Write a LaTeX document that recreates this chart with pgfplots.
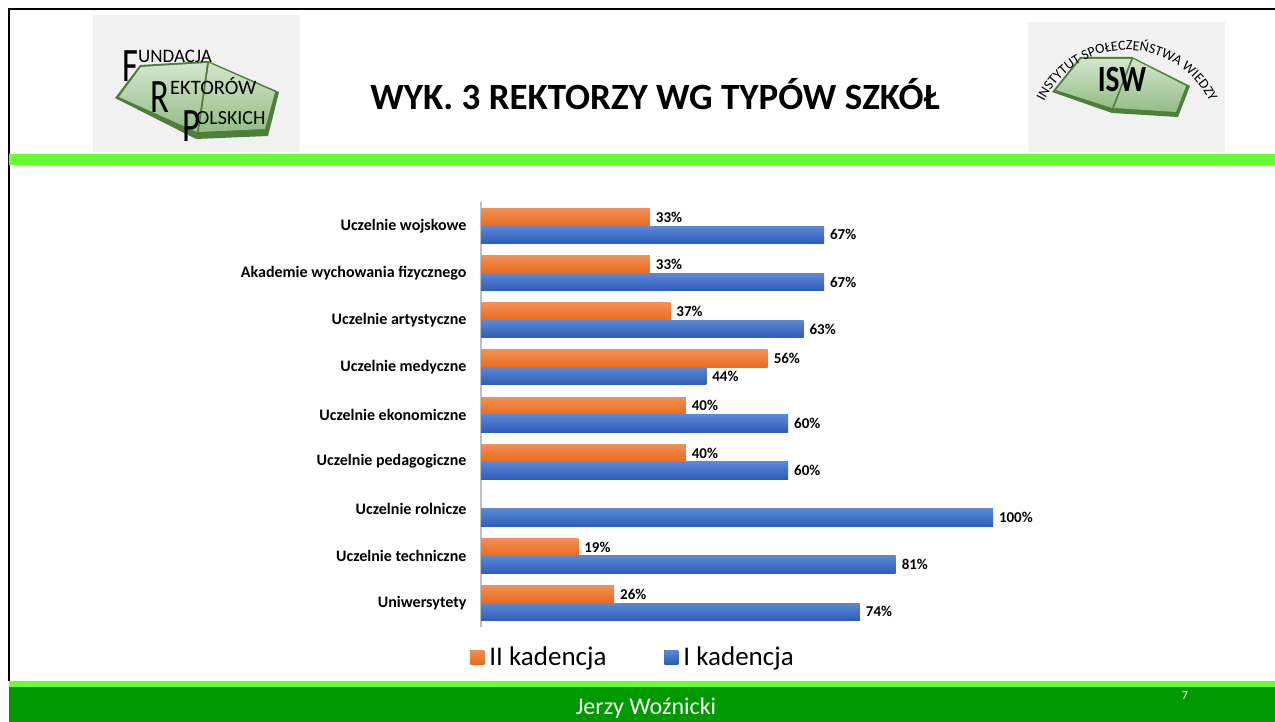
\documentclass[border=0pt]{standalone}
\usepackage{fontspec}
\setmainfont{Carlito}
\usepackage{pgfplots}
\pgfplotsset{compat=1.18}
\usetikzlibrary{decorations.text}
\definecolor{lgreen}{HTML}{66FF33}
\definecolor{dgreen}{HTML}{009900}
\definecolor{orT}{HTML}{F38E55}
\definecolor{orB}{HTML}{E86C1C}
\definecolor{blT}{HTML}{5B88D6}
\definecolor{blB}{HTML}{2E5DB8}
\definecolor{logobg}{HTML}{F1F1F1}
\definecolor{bookD}{HTML}{4F7D3C}
\definecolor{bookL}{HTML}{D3E6CC}
\definecolor{bookM}{HTML}{93BC86}
\tikzset{
  orbar/.style={draw=none, top color=orT, bottom color=orB, bar shift=8.75pt},
  blbar/.style={draw=none, top color=blT, bottom color=blB, bar shift=-8.75pt},
}
\begin{document}
\begin{tikzpicture}[x=1pt,y=1pt]
\useasboundingbox (0,0) rectangle (1275,722);
\fill[white] (0,0) rectangle (1275,722);
% slide frame
\draw[black, line width=2pt] (9,41) -- (9,713) -- (1275,713);
\fill[lgreen] (9,557) rectangle (1275,568);
\fill[lgreen] (9,35) rectangle (1275,41);
\fill[dgreen] (9,0) rectangle (1275,35);
\node[text=white, font=\fontsize{24}{27}\selectfont] at (646,14) {Jerzy Woźnicki};
\node[text=white, font=\fontsize{12}{14}\selectfont] at (1185,26) {7};
% title
\node[font=\fontsize{37}{42}\selectfont\bfseries] at (655,628) {WYK. 3 REKTORZY WG TYPÓW SZKÓŁ};
% left logo
\fill[logobg] (93,570) rectangle (300,707);
\fill[bookD] (115,624) -- (196,583) -- (268,586) -- (279,630) -- (208,661) -- (140,657) -- cycle;
\shade[top color=bookL, bottom color=bookM] (119,625) -- (141,655) -- (207,659) -- (197,590) -- cycle;
\shade[top color=bookL, bottom color=bookM] (209,659) -- (275,630) -- (265,593) -- (199,590) -- cycle;
\node[anchor=base west, inner sep=0pt, font=\fontsize{48}{48}\selectfont, xscale=0.72] at (122,640) {F};
\node[anchor=base west, inner sep=0pt, font=\fontsize{19}{19}\selectfont] at (138,659) {UNDACJA};
\node[anchor=base west, inner sep=0pt, font=\fontsize{48}{48}\selectfont, xscale=0.72] at (150,609) {R};
\node[anchor=base west, inner sep=0pt, font=\fontsize{20.5}{20}\selectfont] at (170,627) {EKTORÓW};
\node[anchor=base west, inner sep=0pt, font=\fontsize{48}{48}\selectfont, xscale=0.72] at (182,580) {P};
\node[anchor=base west, inner sep=0pt, font=\fontsize{20}{20}\selectfont] at (196,597) {OLSKICH};
% right logo
\fill[logobg] (1028,570) rectangle (1225,700);
\fill[bookD] (1052,630) -- (1112,609) -- (1178,605) -- (1190,636) -- (1132,665) -- (1080,665) -- cycle;
\shade[top color=bookL, bottom color=bookM] (1056,632) -- (1081,663) -- (1131,663) -- (1112,614) -- cycle;
\shade[top color=bookL, bottom color=bookM] (1133,663) -- (1186,636) -- (1176,610) -- (1114,614) -- cycle;
\node[font=\fontsize{37}{37}\selectfont\bfseries, xscale=0.8] at (1122,642) {ISW};
\path[decorate, decoration={text along path, text align=center,
  text={|\fontsize{14}{14}\selectfont|INSTYTUT SPOŁECZEŃSTWA WIEDZY}}]
  (1127,580) ++(162:92) arc[start angle=162, end angle=18, radius=92];
% chart
\begin{axis}[
  at={(481pt,95.4pt)}, anchor=south west,
  x=5.12pt, y=47.125pt,
  xmin=0, xmax=100, ymin=-0.5, ymax=8.5,
  axis x line=none,
  axis y line=left,
  y axis line style={-, draw=black!25, line width=1.5pt},
  major tick length=0pt,
  ytick={0,...,8},
  yticklabels={Uniwersytety, Uczelnie techniczne, Uczelnie rolnicze, Uczelnie pedagogiczne, Uczelnie ekonomiczne, Uczelnie medyczne, Uczelnie artystyczne, Akademie wychowania fizycznego, {Uczelnie wojskowe\ }},
  yticklabel style={font=\fontsize{16}{18}\selectfont\bfseries, anchor=east, xshift=-11pt},
  xbar, bar width=17.5pt,
  /pgf/number format/assume math mode=true,
  nodes near coords={\pgfmathprintnumber{\pgfplotspointmeta}\%},
  point meta=x,
  every node near coord/.append style={text=black, font=\fontsize{15}{17}\selectfont\bfseries, anchor=west, xshift=2.5pt},
  clip=false,
  legend columns=2,
  legend style={at={(axis description cs:0.297,-0.072)}, anchor=center, draw=none, fill=none,
     font=\fontsize{27}{30}\selectfont,
     /tikz/every odd column/.append style={column sep=3pt},
     /tikz/every even column/.append style={column sep=56pt}},
  legend image code/.code={\fill[#1] (0pt,-7pt) rectangle (14pt,7pt);},
]
% II kadencja (orange)
\addplot[orbar] coordinates {(26,0)};
\addlegendentry{II kadencja}
% I kadencja (blue)
\addplot[blbar] coordinates {(74,0)};
\addlegendentry{I kadencja}
\addplot[orbar, forget plot] coordinates {(19,1)};
\addplot[orbar, forget plot] coordinates {(40,3)};
\addplot[orbar, forget plot] coordinates {(40,4)};
\addplot[orbar, forget plot] coordinates {(56,5)};
\addplot[orbar, forget plot] coordinates {(37,6)};
\addplot[orbar, forget plot] coordinates {(33,7)};
\addplot[orbar, forget plot] coordinates {(33,8)};
\addplot[blbar, forget plot] coordinates {(81,1)};
\addplot[blbar, forget plot] coordinates {(100,2)};
\addplot[blbar, forget plot] coordinates {(60,3)};
\addplot[blbar, forget plot] coordinates {(60,4)};
\addplot[blbar, forget plot] coordinates {(44,5)};
\addplot[blbar, forget plot] coordinates {(63,6)};
\addplot[blbar, forget plot] coordinates {(67,7)};
\addplot[blbar, forget plot] coordinates {(67,8)};
\end{axis}
\end{tikzpicture}
\end{document}
